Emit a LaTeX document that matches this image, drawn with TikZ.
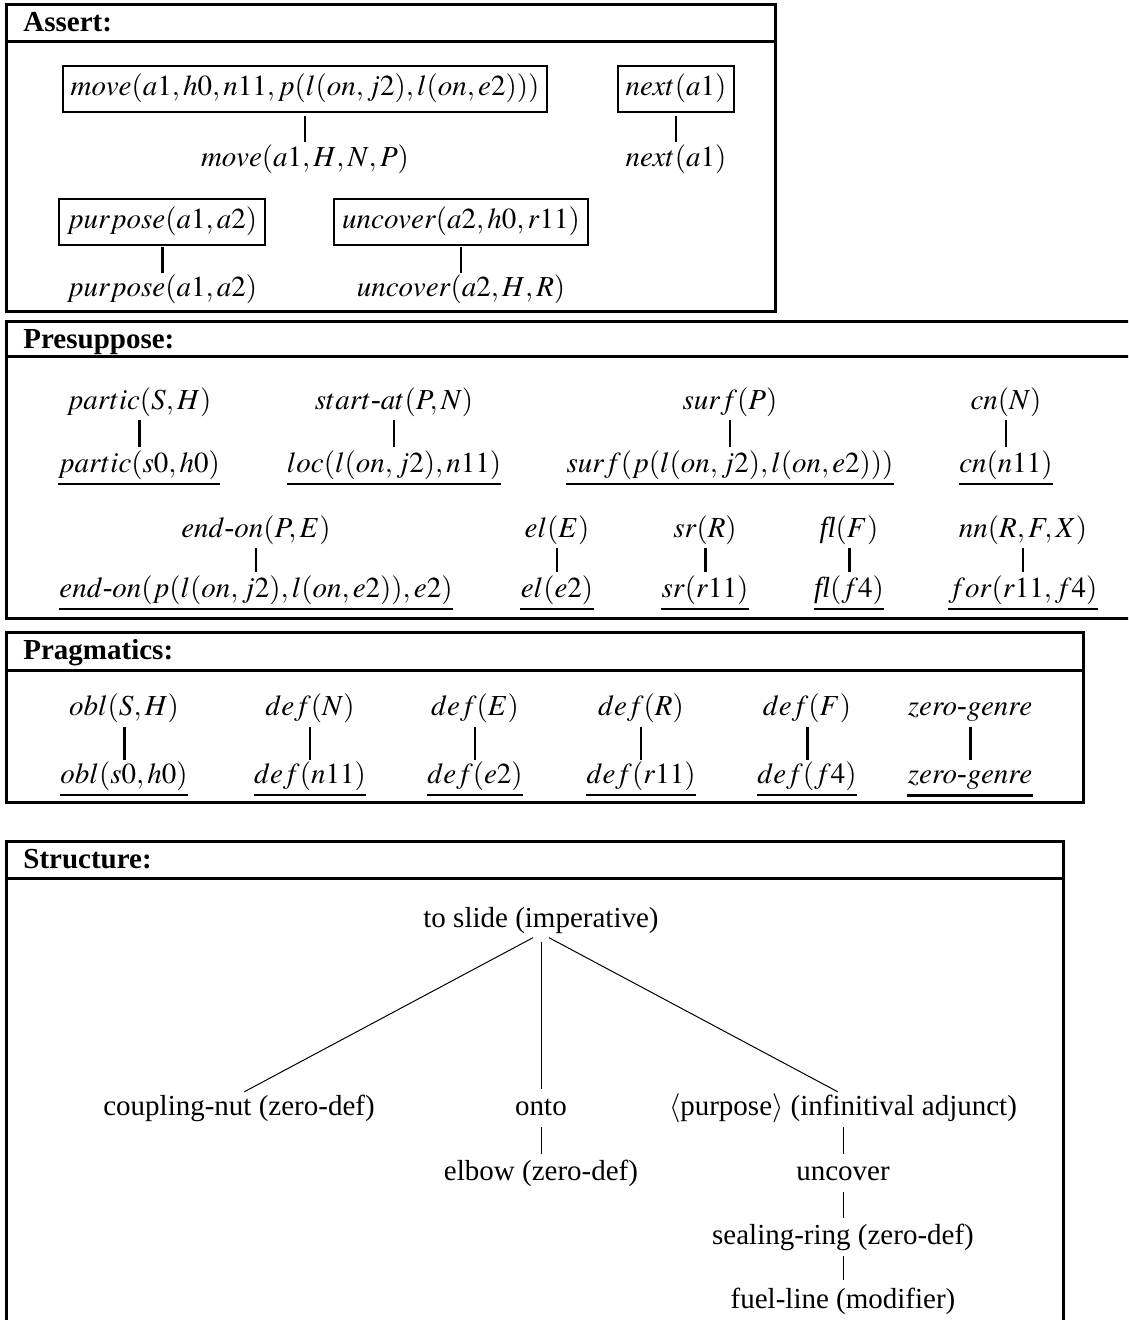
\documentclass[tikz,border=0pt]{standalone}
\usepackage{mathptmx}
\usepackage{fontspec}
\setmainfont{Liberation Serif}
\usetikzlibrary{calc}

\begin{document}
\begin{tikzpicture}[x=0.5pt,y=-0.5pt,
  every node/.style={font=\fontsize{14.5}{17}\selectfont, inner sep=0pt,
                     text height=10pt, text depth=3pt},
  lbl/.style={anchor=base},
  hd/.style={anchor=base west, font=\fontsize{14.5}{17}\selectfont\bfseries},
  frame/.style={line width=1.5pt},
  pbox/.style={draw, line width=1.1pt, inner xsep=4pt, inner ysep=5pt},
  lnk/.style={line width=1pt},
  lnkb/.style={line width=1.5pt},
  ul/.style={line width=1pt},
  ulb/.style={line width=1.6pt},
  tree/.style={line width=0.5pt, shorten <=3pt, shorten >=3pt},
]
\useasboundingbox (0,0) rectangle (1128,1320);
\clip (0,0) rectangle (1128,1320);

% ---------- section frames ----------
\draw[frame] (6,5) rectangle (775,312);    \draw[frame] (6,42) -- (775,42);
\draw[frame] (6,322) rectangle (1140,618); \draw[frame] (6,357) -- (1140,357);
\draw[frame] (6,632) rectangle (1083,802); \draw[frame] (6,670) -- (1083,670);
\draw[frame] (6,841) rectangle (1063,1340);\draw[frame] (6,878) -- (1063,878);

\node[hd] (hAssert) at (23,32)  {Assert:};
\node[hd] (hPresup) at (23,349) {Presuppose:};
\node[hd] (hPragma) at (23,659) {Pragmatics:};
\node[hd] (hStruct) at (23,868) {Structure:};

% ---------- Assert ----------
\node[pbox] (aMove) at (305,89) {$move(a1,h0,n11,p(l(on,j2),l(on,e2)))$};
\node[lbl]  (aMoveL) at (305,167) {$move(a1,H,N,P)$};
\node[pbox] (aNext) at (676,89) {$next(a1)$};
\node[lbl]  (aNextL) at (676,167) {$next(a1)$};
\node[pbox] (aPurp) at (162,222) {$purpose(a1,a2)$};
\node[lbl]  (aPurpL) at (162,297) {$purpose(a1,a2)$};
\node[pbox] (aUnc) at (461,222) {$uncover(a2,h0,r11)$};
\node[lbl]  (aUncL) at (461,297) {$uncover(a2,H,R)$};

\draw[lnk,  shorten <=1.5pt, shorten >=2.5pt] (aMove.south) -- (aMoveL.north);
\draw[lnk,  shorten <=1.5pt, shorten >=2.5pt] (aNext.south) -- (aNextL.north);
\draw[lnkb, shorten <=0.5pt, shorten >=2pt]   (aPurp.south) -- (aPurpL.north);
\draw[lnk,  shorten <=0.5pt, shorten >=2pt]   (aUnc.south)  -- (aUncL.north);

% ---------- Presuppose ----------
\node[lbl] (pPartT) at (139,409) {$partic(S,H)$};
\node[lbl] (pPartB) at (139,472) {$partic(s0,h0)$};
\node[lbl] (pStartT) at (394,409) {$start\mbox{-}at(P,N)$};
\node[lbl] (pStartB) at (394,472) {$loc(l(on,j2),n11)$};
\node[lbl] (pSurfT) at (730,409) {$surf(P)$};
\node[lbl] (pSurfB) at (730,472) {$surf(p(l(on,j2),l(on,e2)))$};
\node[lbl] (pCnT) at (1006,409) {$cn(N)$};
\node[lbl] (pCnB) at (1006,472) {$cn(n11)$};

\node[lbl] (pEndT) at (256,537) {$end\mbox{-}on(P,E)$};
\node[lbl] (pEndB) at (256,597) {$end\mbox{-}on(p(l(on,j2),l(on,e2)),e2)$};
\node[lbl] (pElT) at (557,537) {$el(E)$};
\node[lbl] (pElB) at (557,597) {$el(e2)$};
\node[lbl] (pSrT) at (705,537) {$sr(R)$};
\node[lbl] (pSrB) at (705,597) {$sr(r11)$};
\node[lbl] (pFlT) at (849,537) {\textit{fl}$(F)$};
\node[lbl] (pFlB) at (849,597) {\textit{fl}$(f4)$};
\node[lbl] (pNnT) at (1023,537) {$nn(R,F,X)$};
\node[lbl] (pNnB) at (1023,597) {$for(r11,f4)$};

\foreach \a/\w in {pPart/lnkb, pStart/lnk, pSurf/lnk, pCn/lnk,
                   pEnd/lnk, pEl/lnk, pSr/lnkb, pFl/lnkb, pNn/lnk}
  \draw[\w, shorten <=2.5pt, shorten >=2.2pt] (\a T.south) -- (\a B.north);

% ---------- Pragmatics ----------
\node[lbl] (gOblT) at (124,715) {$obl(S,H)$};
\node[lbl] (gOblB) at (124,783) {$obl(s0,h0)$};
\node[lbl] (gNT) at (310,715) {$def(N)$};
\node[lbl] (gNB) at (310,783) {$def(n11)$};
\node[lbl] (gET) at (475,715) {$def(E)$};
\node[lbl] (gEB) at (475,783) {$def(e2)$};
\node[lbl] (gRT) at (641,715) {$def(R)$};
\node[lbl] (gRB) at (641,783) {$def(r11)$};
\node[lbl] (gFT) at (807,715) {$def(F)$};
\node[lbl] (gFB) at (807,783) {$def(f4)$};
\node[lbl] (gZT) at (970,715) {$zero\mbox{-}genre$};
\node[lbl] (gZB) at (970,783) {$zero\mbox{-}genre$};

\foreach \a/\w in {gObl/lnkb, gN/lnk, gE/lnk, gR/lnk, gF/lnkb, gZ/lnkb}
  \draw[\w, shorten <=3pt, shorten >=1.5pt] (\a T.south) -- (\a B.north);

% ---------- underlines of the instantiated facts ----------
\foreach \n in {pPartB, pStartB, pSurfB, pCnB, pEndB, pElB, pSrB, pFlB, pNnB,
                gOblB, gNB, gEB, gRB, gFB}
  \draw[ul] ($(\n.south west)+(0,-3pt)$) -- ($(\n.south east)+(0,-3pt)$);
\draw[ulb] ($(gZB.south west)+(0,-3pt)$) -- ($(gZB.south east)+(0,-3pt)$);

% ---------- Structure ----------
\node[lbl] (sRoot) at (541,927) {to slide (imperative)};
\node[lbl] (sNut) at (239,1115) {coupling-nut (zero-def)};
\node[lbl] (sOnto) at (541,1115) {onto};
\node[lbl] (sPurp) at (843,1115) {$\langle$purpose$\rangle$ (infinitival adjunct)};
\node[lbl] (sElbow) at (541,1180) {elbow (zero-def)};
\node[lbl] (sUnc) at (843,1180) {uncover};
\node[lbl] (sSeal) at (843,1244) {sealing-ring (zero-def)};
\node[lbl] (sFuel) at (843,1308) {fuel-line (modifier)};

\draw[tree, shorten <=4.5pt] (sRoot.south) -- (sNut.north);
\draw[tree, shorten <=4.5pt] (sRoot.south) -- (sOnto.north);
\draw[tree, shorten <=4.5pt] (sRoot.south) -- (sPurp.north);
\draw[tree] (sOnto.south) -- (sElbow.north);
\draw[tree] (sPurp.south) -- (sUnc.north);
\draw[tree] (sUnc.south) -- (sSeal.north);
\draw[tree, shorten >=4pt] (sSeal.south) -- (sFuel.north);
\end{tikzpicture}
\end{document}
